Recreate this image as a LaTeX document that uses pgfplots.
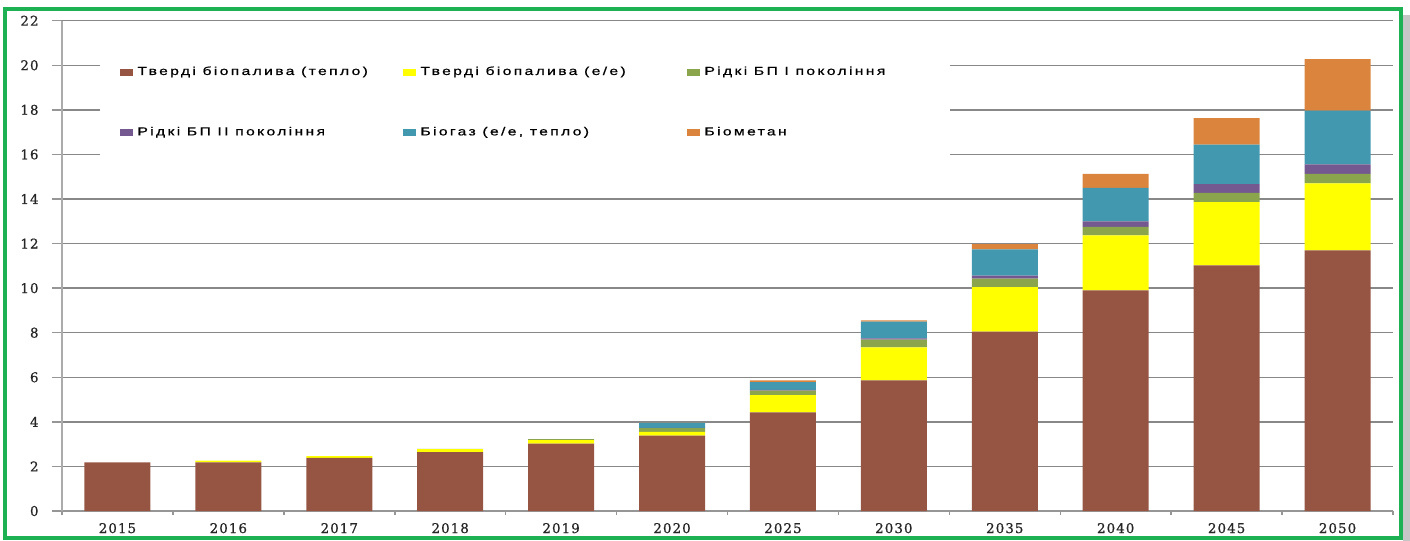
\documentclass[border=0pt]{standalone}
\usepackage{fontspec}
\setmainfont{DejaVu Serif}
\newfontfamily\legfont[LetterSpace=15,FakeBold=0.6]{Liberation Sans}
\newfontfamily\tickfont[LetterSpace=8,FakeBold=0.8]{DejaVu Serif}
\usepackage{graphicx}
\usepackage{pgfplots}
\pgfplotsset{compat=1.18}
\definecolor{cBrown}{RGB}{150,84,67}
\definecolor{cYellow}{RGB}{255,255,0}
\definecolor{cGreen}{RGB}{138,165,76}
\definecolor{cPurple}{RGB}{115,89,144}
\definecolor{cTeal}{RGB}{66,152,175}
\definecolor{cOrange}{RGB}{219,132,61}
\definecolor{gridgray}{RGB}{136,136,136}
\definecolor{axisgray}{RGB}{150,150,150}
\definecolor{frameGreen}{RGB}{29,177,84}
\newcommand\LT[2]{\makebox[#1][l]{\scalebox{1.35}[1]{#2}}}
\pgfplotstableread{
idx brown yellow green purple teal orange
0  2.18 0.00 0.00 0.00 0.00 0.00
1  2.18 0.08 0.00 0.00 0.00 0.00
2  2.38 0.08 0.00 0.00 0.00 0.00
3  2.64 0.14 0.01 0.00 0.00 0.00
4  3.02 0.16 0.05 0.00 0.00 0.00
5  3.38 0.17 0.17 0.01 0.24 0.01
6  4.42 0.78 0.20 0.03 0.35 0.08
7  5.86 1.48 0.35 0.06 0.75 0.05
8  8.05 2.00 0.38 0.13 1.18 0.24
9  9.90 2.47 0.38 0.25 1.50 0.63
10 11.02 2.84 0.41 0.40 1.77 1.19
11 11.70 3.00 0.43 0.42 2.41 2.32
}\datatable
\begin{document}
\begin{tikzpicture}
\begin{axis}[
  at={(31pt,15pt)}, anchor=south west,
  scale only axis, width=665.5pt, height=245.15pt,
  ybar stacked, bar width=33pt,
  xmin=-0.5, xmax=11.5, ymin=0, ymax=22,
  xtick={-0.5,0.5,...,11.5},
  x tick label as interval,
  xticklabels={2015,2016,2017,2018,2019,2020,2025,2030,2035,2040,2045,2050},
  ytick={0,2,...,22},
  /pgf/number format/assume math mode=true,
  tick label style={font=\tickfont\fontsize{6.7}{7}\selectfont, text=black!85},
  yticklabel style={xshift=-3.2pt},
  xticklabel style={yshift=2.5pt},
  ymajorgrids,
  major grid style={draw=gridgray, line width=0.75pt},
  axis x line*=bottom, axis y line*=left,
  x axis line style={-, draw=axisgray, line width=1pt},
  y axis line style={-, draw=axisgray!80, line width=0.75pt},
  tick align=outside,
  major tick length=5pt,
  xtick style={/pgfplots/major tick length=2pt},
  tick style={draw=axisgray, line width=0.75pt},
  legend columns=3,
  legend cell align=left,
  legend style={at={(0.0286,0.985)}, anchor=north west, draw=none, fill=white,
    font=\legfont\fontsize{5.8}{7}\selectfont,
    inner xsep=10pt, inner ysep=17pt, row sep=20.5pt,
    /tikz/every even column/.append style={column sep=0pt}},
  legend image code/.code={\fill[#1] (0pt,-1.85pt) rectangle (6.5pt,1.85pt);},
]
\addplot[fill=cBrown, draw=none] table[x=idx, y=brown] {\datatable};
\addplot[fill=cYellow, draw=none] table[x=idx, y=yellow] {\datatable};
\addplot[fill=cGreen, draw=none] table[x=idx, y=green] {\datatable};
\addplot[fill=cPurple, draw=none] table[x=idx, y=purple] {\datatable};
\addplot[fill=cTeal, draw=none] table[x=idx, y=teal] {\datatable};
\addplot[fill=cOrange, draw=none] table[x=idx, y=orange] {\datatable};
\addlegendentry{\LT{131pt}{Тверді біопалива (тепло)}}
\addlegendentry{\LT{131.5pt}{Тверді біопалива (е/е)}}
\addlegendentry{\LT{111pt}{Рідкі БП І покоління}}
\addlegendentry{\LT{131pt}{Рідкі БП ІІ покоління}}
\addlegendentry{\LT{131.5pt}{Біогаз (е/е, тепло)}}
\addlegendentry{\LT{111pt}{Біометан}}
\end{axis}
\fill[gray!45] (701.5pt,0pt) rectangle (705pt,263pt);
\draw[frameGreen, line width=2pt] (2.5pt,1.25pt) rectangle (700.5pt,265.75pt);
\pgfresetboundingbox
\useasboundingbox (0,0) rectangle (705pt,270.5pt);
\end{tikzpicture}
\end{document}
